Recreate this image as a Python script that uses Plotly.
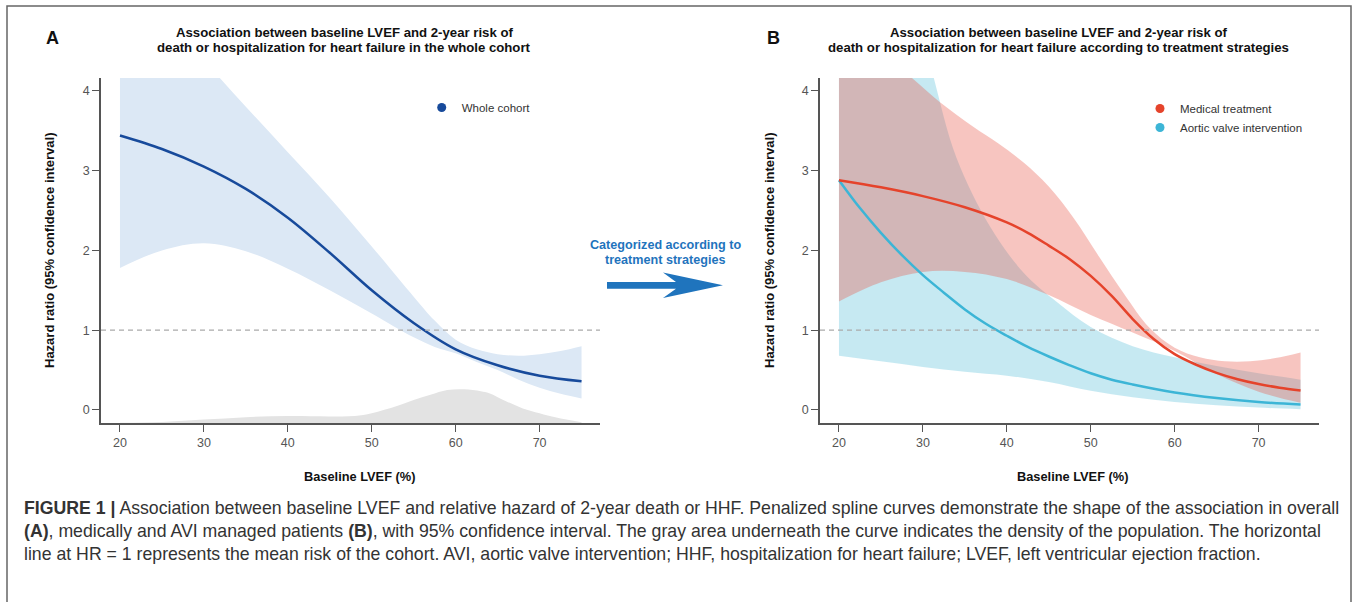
import plotly.graph_objects as go

W, H = 1357, 602

# ---------------- Panel A data (whole cohort) ----------------
a_x = [20, 25, 30, 35, 40, 45, 50, 55, 60, 65, 70, 75]
a_hr = [3.44, 3.27, 3.05, 2.77, 2.41, 1.97, 1.50, 1.09, 0.76, 0.56, 0.43, 0.36]
a_ci_x = [20, 25, 30, 35, 40, 45, 50, 55, 57.5, 60, 62.5, 65, 67.5, 70, 72.5, 75]
a_upper = [5.5, 4.95, 4.38, 3.8, 3.23, 2.66, 2.05, 1.42, 1.12, 0.88, 0.76, 0.70, 0.68, 0.70, 0.74, 0.80]
a_lower = [1.78, 2.0, 2.09, 1.99, 1.77, 1.50, 1.21, 0.91, 0.79, 0.71, 0.60, 0.50, 0.38, 0.28, 0.205, 0.145]
dens_x = [20, 25, 30, 35, 40, 45, 48, 50, 53, 55, 57, 59, 61, 63, 64, 66, 68, 70, 72, 75]
dens_top = [-0.16, -0.15, -0.12, -0.09, -0.075, -0.08, -0.075, -0.04, 0.05, 0.125, 0.19, 0.25, 0.26, 0.235, 0.21, 0.11, 0.02, -0.04, -0.095, -0.155]

# ---------------- Panel B data (treatment strategies) ----------------
mt_x = [20, 25, 30, 35, 40, 42.5, 45, 47.5, 50, 52.5, 55, 57.5, 60, 62.5, 65, 67.5, 70, 72.5, 75]
mt_hr = [2.88, 2.79, 2.68, 2.54, 2.35, 2.22, 2.06, 1.89, 1.68, 1.43, 1.14, 0.89, 0.70, 0.57, 0.465, 0.385, 0.325, 0.28, 0.245]
b_x = [20, 25, 30, 35, 40, 45, 50, 55, 60, 65, 70, 75]
mt_lower = [1.36, 1.60, 1.73, 1.73, 1.64, 1.44, 1.19, 0.97, 0.74, 0.45, 0.23, 0.09]
mt_up_x = [20, 25, 28.7, 32, 36, 39, 42, 45, 48, 51, 54, 57, 60, 63, 66, 69, 72, 75]
mt_upper = [5.0, 4.5, 4.16, 3.86, 3.55, 3.34, 3.10, 2.80, 2.40, 1.92, 1.45, 1.03, 0.78, 0.66, 0.61, 0.61, 0.65, 0.72]

avi_x = [20, 22.5, 25, 27.5, 30, 32.5, 35, 37.5, 40, 42.5, 45, 47.5, 50, 52.5, 55, 60, 65, 70, 75]
avi_hr = [2.88, 2.53, 2.22, 1.94, 1.69, 1.47, 1.26, 1.08, 0.93, 0.79, 0.67, 0.56, 0.46, 0.38, 0.32, 0.22, 0.15, 0.10, 0.07]
avi_lower = [0.68, 0.61, 0.54, 0.48, 0.43, 0.35, 0.24, 0.16, 0.10, 0.06, 0.03, 0.01]
avi_up_x = [20, 25, 28, 30, 31.3, 34, 38, 42, 46, 50, 55, 60, 65, 70, 75]
avi_upper = [10, 7.2, 5.6, 4.7, 4.16, 3.16, 2.30, 1.72, 1.35, 1.04, 0.80, 0.66, 0.55, 0.46, 0.38]

x_ticks = [20, 30, 40, 50, 60, 70]
y_ticks = [0, 1, 2, 3, 4]
X_RANGE = [17.74, 77.2]
Y_RANGE = [-0.163, 4.16]

BLUE = "#174a9b"
BLUE_FILL = "#dce8f5"
RED = "#e5432b"
RED_FILL = "rgba(232,90,75,0.35)"
CYAN = "#3cb5d6"
CYAN_FILL = "rgba(60,180,210,0.29)"
GRAY_FILL = "#e3e3e3"
ARROW = "#1f74bd"
FONT = "Liberation Sans, Arial, Helvetica, sans-serif"

fig = go.Figure()


def band(xs_lo, lo, xs_hi, hi, color, xa, ya):
    fig.add_trace(go.Scatter(x=xs_lo, y=lo, mode="lines", line=dict(width=0, shape="spline"),
                             showlegend=False, hoverinfo="skip", xaxis=xa, yaxis=ya))
    fig.add_trace(go.Scatter(x=xs_hi, y=hi, mode="lines", line=dict(width=0, shape="spline"),
                             fill="tonexty", fillcolor=color, showlegend=False,
                             hoverinfo="skip", xaxis=xa, yaxis=ya))


# Panel A
fig.add_trace(go.Scatter(x=dens_x, y=[Y_RANGE[0]] * len(dens_x), mode="lines", line=dict(width=0),
                         showlegend=False, hoverinfo="skip", xaxis="x", yaxis="y"))
fig.add_trace(go.Scatter(x=dens_x, y=dens_top, mode="lines", line=dict(width=0, shape="spline"),
                         fill="tonexty", fillcolor=GRAY_FILL, showlegend=False,
                         hoverinfo="skip", xaxis="x", yaxis="y"))
band(a_ci_x, a_lower, a_ci_x, a_upper, BLUE_FILL, "x", "y")
fig.add_trace(go.Scatter(x=a_x, y=a_hr, mode="lines", line=dict(color=BLUE, width=2.5, shape="spline"),
                         showlegend=False, xaxis="x", yaxis="y", name="Whole cohort"))
fig.add_trace(go.Scatter(x=[None], y=[None], mode="markers", marker=dict(color=BLUE, size=9),
                         name="Whole cohort", legend="legend", xaxis="x", yaxis="y"))

# Panel B
band(b_x, avi_lower, avi_up_x, avi_upper, CYAN_FILL, "x2", "y2")
band(b_x, mt_lower, mt_up_x, mt_upper, RED_FILL, "x2", "y2")
fig.add_trace(go.Scatter(x=avi_x, y=avi_hr, mode="lines", line=dict(color=CYAN, width=2.5, shape="spline"),
                         showlegend=False, xaxis="x2", yaxis="y2"))
fig.add_trace(go.Scatter(x=mt_x, y=mt_hr, mode="lines", line=dict(color=RED, width=2.5, shape="spline"),
                         showlegend=False, xaxis="x2", yaxis="y2"))
fig.add_trace(go.Scatter(x=[None], y=[None], mode="markers", marker=dict(color=RED, size=9),
                         name="Medical treatment", legend="legend2", xaxis="x2", yaxis="y2"))
fig.add_trace(go.Scatter(x=[None], y=[None], mode="markers", marker=dict(color=CYAN, size=9),
                         name="Aortic valve intervention", legend="legend2", xaxis="x2", yaxis="y2"))


def px(v):
    return v / W


def py(v):
    return 1 - v / H


ax_common = dict(showline=True, linecolor="#555", linewidth=1.5, ticks="outside", ticklen=7,
                 tickwidth=1.2, tickcolor="#555", showgrid=False, zeroline=False,
                 tickfont=dict(family=FONT, size=12.5, color="#555"))
fig.update_layout(
    xaxis=dict(domain=[px(101), px(600)], range=X_RANGE, tickvals=x_ticks, anchor="y", **ax_common),
    yaxis=dict(domain=[py(423), py(78)], range=Y_RANGE, tickvals=y_ticks, anchor="x", **ax_common),
    xaxis2=dict(domain=[px(820), px(1319)], range=X_RANGE, tickvals=x_ticks, anchor="y2", **ax_common),
    yaxis2=dict(domain=[py(423), py(78)], range=Y_RANGE, tickvals=y_ticks, anchor="x2", **ax_common),
)

for xr, yr in (("x", "y"), ("x2", "y2")):
    fig.add_shape(type="line", xref=xr + " domain", yref=yr, x0=0, x1=1, y0=1, y1=1,
                  line=dict(color="#aaaaaa", width=1.2, dash="5px,4px"))

ann = []


def text(x, y, s, size=12, color="#111", bold=False, xanchor="center", angle=0):
    ann.append(dict(x=px(x), y=py(y), xref="paper", yref="paper", text=f"<b>{s}</b>" if bold else s,
                    showarrow=False, xanchor=xanchor, yanchor="middle", textangle=angle,
                    font=dict(family=FONT, size=size, color=color)))


text(52, 38, "A", size=18, bold=True)
text(773, 38, "B", size=18, bold=True)
text(344, 33, "Association between baseline LVEF and 2-year risk of", size=13.2, bold=True)
text(344, 47, "death or hospitalization for heart failure in the whole cohort", size=13.2, bold=True)
text(1058, 33, "Association between baseline LVEF and 2-year risk of", size=13.2, bold=True)
text(1058, 47, "death or hospitalization for heart failure according to treatment strategies", size=13.2, bold=True)
text(50, 250, "Hazard ratio (95% confidence interval)", size=13, bold=True, angle=-90)
text(770, 250, "Hazard ratio (95% confidence interval)", size=13, bold=True, angle=-90)
text(359, 476, "Baseline LVEF (%)", size=12.8, bold=True)
text(1072, 476, "Baseline LVEF (%)", size=12.8, bold=True)
text(665, 245, "Categorized according to", size=12.6, bold=True, color=ARROW)
text(665, 260, "treatment strategies", size=12.6, bold=True, color=ARROW)

cap = [
    "<b>FIGURE 1 |</b> Association between baseline LVEF and relative hazard of 2-year death or HHF. Penalized spline curves demonstrate the shape of the association in overall",
    "<b>(A)</b>, medically and AVI managed patients <b>(B)</b>, with 95% confidence interval. The gray area underneath the curve indicates the density of the population. The horizontal",
    "line at HR = 1 represents the mean risk of the cohort. AVI, aortic valve intervention; HHF, hospitalization for heart failure; LVEF, left ventricular ejection fraction.",
]
for i, line in enumerate(cap):
    text(22, 508 + 23 * i, line, size=17.7, color="#333", xanchor="left")

fig.update_layout(annotations=ann)


def P(x, y):
    return f"{px(x):.5f},{py(y):.5f}"


arrow = ("M " + P(607, 282) + " L " + P(676, 282) + " L " + P(663, 272.5) + " L " + P(723, 285.3)
         + " L " + P(663, 298) + " L " + P(676, 288.7) + " L " + P(607, 288.7) + " Z")
fig.add_shape(type="path", xref="paper", yref="paper", path=arrow, fillcolor=ARROW, line=dict(width=0))
frame = "M " + P(7, 602) + " L " + P(7, 6) + " L " + P(1351, 6) + " L " + P(1351, 602)
fig.add_shape(type="path", xref="paper", yref="paper", path=frame, line=dict(color="#666", width=1.5))

fig.update_layout(
    width=W, height=H, margin=dict(l=0, r=0, t=0, b=0),
    paper_bgcolor="white", plot_bgcolor="white",
    font=dict(family=FONT),
    legend=dict(x=px(441.7 - 20), y=py(93), xanchor="left", yanchor="top", bgcolor="rgba(0,0,0,0)",
                font=dict(family=FONT, size=11.5, color="#333"), itemwidth=30),
    legend2=dict(x=px(1160 - 20), y=py(94), xanchor="left", yanchor="top", bgcolor="rgba(0,0,0,0)",
                 font=dict(family=FONT, size=11.5, color="#333"), itemwidth=30),
)

fig.write_html("out.html", config={"displayModeBar": False},
               post_script="document.body.style.margin='0';document.body.style.overflow='hidden';")
